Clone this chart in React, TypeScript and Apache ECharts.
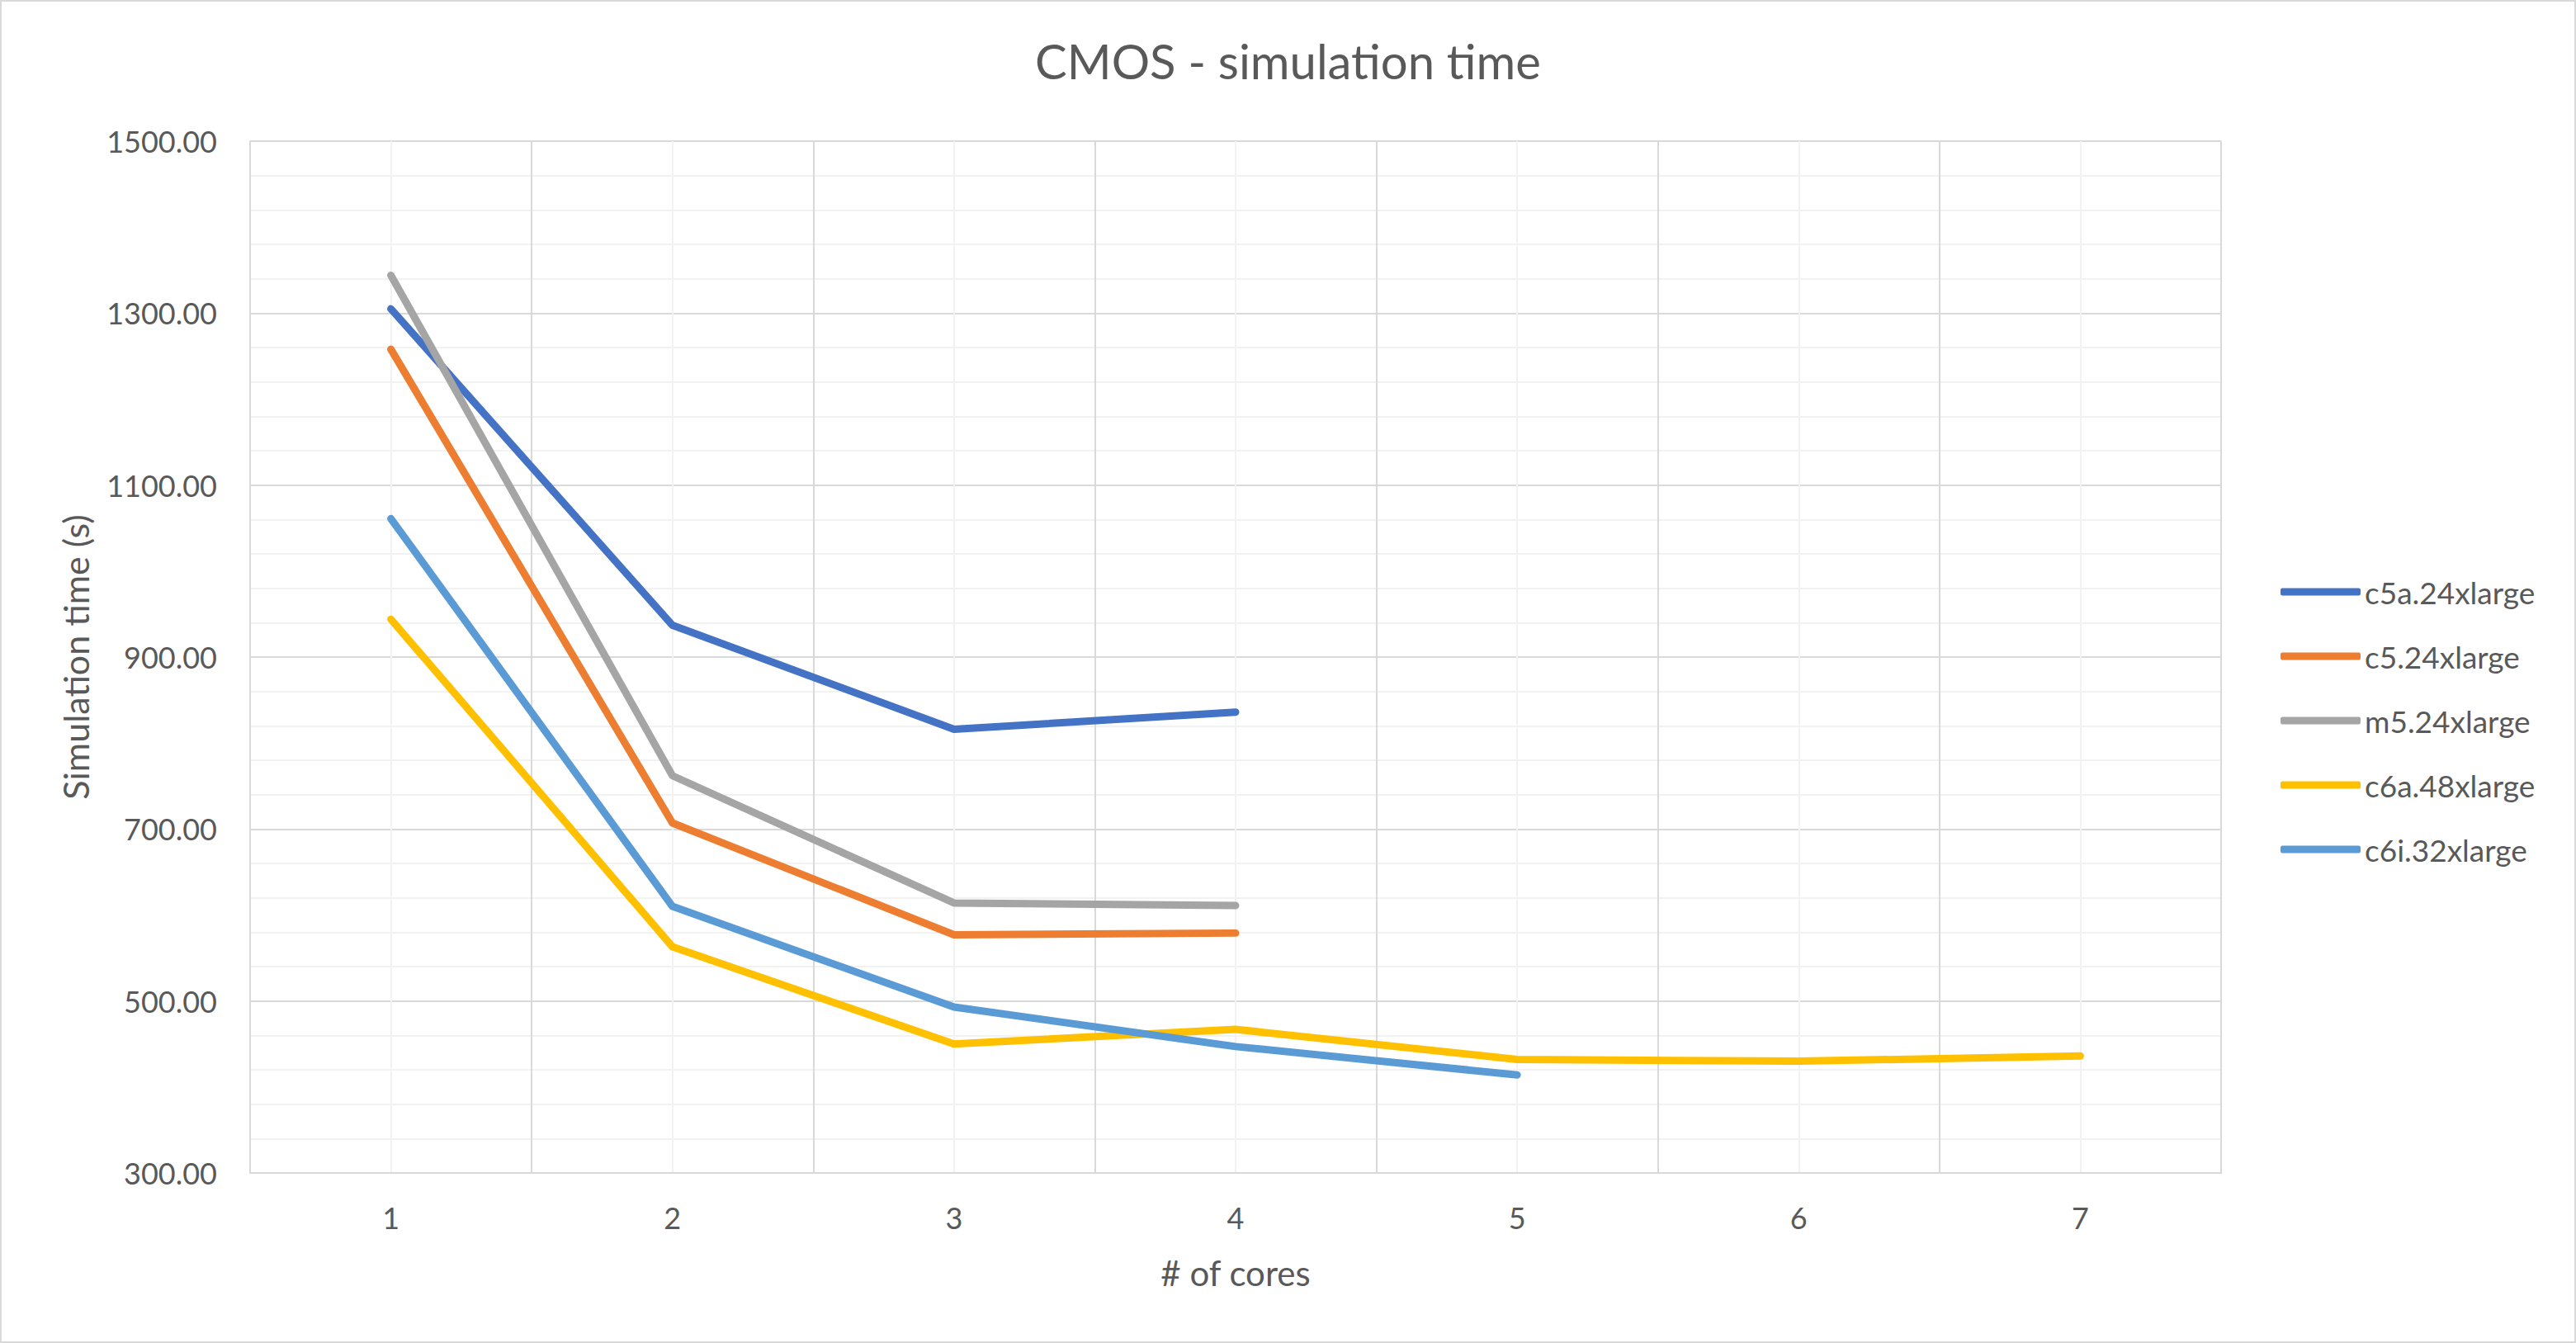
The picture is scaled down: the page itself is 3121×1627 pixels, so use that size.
import React, { useEffect, useRef } from "react";
import * as echarts from "echarts";

const cores = [1, 2, 3, 4, 5, 6, 7];
const seriesNames = ["c5a.24xlarge", "c5.24xlarge", "m5.24xlarge", "c6a.48xlarge", "c6i.32xlarge"];
const c5a24 = [1305, 937, 816, 836, null, null, null];
const c524 = [1258, 707, 577, 579, null, null, null];
const m524 = [1344, 762, 614, 611, null, null, null];
const c6a48 = [944, 563, 450, 467, 432, 430, 436];
const c6i32 = [1061, 610, 493, 447, 414, null, null];
const seriesColors = ["#4472C4", "#ED7D31", "#A5A5A5", "#FFC000", "#5B9BD5"];
const yTicks = [300, 500, 700, 900, 1100, 1300, 1500];

const FONT = "Lato";
const TEXT = "#595959";

export default function App() {
  const ref = useRef<HTMLDivElement>(null);
  useEffect(() => {
    document.body.style.margin = "0";
    if (!ref.current) return;
    const chart = echarts.init(ref.current, null, { renderer: "svg" });
    const allValues = [c5a24, c524, m524, c6a48, c6i32];
    const series = allValues.map((vals, i) => ({
      name: seriesNames[i],
      type: "line",
      data: cores
        .map((c, j) => [c, vals[j]])
        .filter((p) => p[1] !== null),
      showSymbol: false,
      symbol: "none",
      lineStyle: { color: seriesColors[i], width: 9, cap: "round", join: "round" },
      itemStyle: { color: seriesColors[i] },
      z: 2 + i,
    }));
    chart.setOption({
      animation: false,
      backgroundColor: "#FFFFFF",
      textStyle: { fontFamily: FONT, color: TEXT },
      title: {
        text: "CMOS - simulation time",
        left: "center",
        top: 39,
        textStyle: { fontFamily: FONT, fontSize: 58, fontWeight: "normal", color: TEXT },
      },
      legend: {
        orient: "vertical",
        left: 2758,
        top: 692,
        icon: "roundRect",
        itemWidth: 97,
        itemHeight: 9,
        itemGap: 38,
        data: seriesNames,
        textStyle: { fontFamily: FONT, fontSize: 37, color: TEXT, lineHeight: 40 },
      },
      grid: { left: 303, top: 171, width: 2388, height: 1250 },
      xAxis: {
        type: "value",
        min: 0.5,
        max: 7.5,
        interval: 0.5,
        name: "# of cores",
        nameLocation: "middle",
        nameGap: 100,
        nameTextStyle: { fontFamily: FONT, fontSize: 42, color: TEXT },
        axisLine: { show: true, lineStyle: { color: "#D9D9D9", width: 2 } },
        axisTick: { show: false },
        axisLabel: {
          fontFamily: FONT,
          fontSize: 36,
          color: TEXT,
          margin: 36,
          formatter: (v: number) => (cores.indexOf(v) >= 0 ? String(v) : ""),
        },
        splitLine: { show: true, lineStyle: { color: ["#D9D9D9", "#F2F2F2"], width: 2 } },
      },
      yAxis: {
        type: "value",
        min: yTicks[0],
        max: yTicks[yTicks.length - 1],
        interval: 200,
        name: "Simulation time (s)",
        nameLocation: "middle",
        nameRotate: 90,
        nameGap: 190,
        nameTextStyle: { fontFamily: FONT, fontSize: 43, color: TEXT },
        axisLine: { show: true, lineStyle: { color: "#D9D9D9", width: 2 } },
        axisTick: { show: false },
        minorTick: { show: false, splitNumber: 5 },
        minorSplitLine: { show: true, lineStyle: { color: "#F2F2F2", width: 2 } },
        splitLine: { show: true, lineStyle: { color: "#D9D9D9", width: 2 } },
        axisLabel: {
          fontFamily: FONT,
          fontSize: 36,
          color: TEXT,
          margin: 40,
          formatter: (v: number) => v.toFixed(2),
        },
      },
      graphic: [
        {
          type: "rect",
          shape: { x: 1, y: 1, width: 3119, height: 1625 },
          style: { fill: "none", stroke: "#D9D9D9", lineWidth: 2 },
          silent: true,
          z: 0,
        },
      ],
      series,
    });
    return () => chart.dispose();
  }, []);
  return <div ref={ref} style={{ width: 3121, height: 1627 }} />;
}
